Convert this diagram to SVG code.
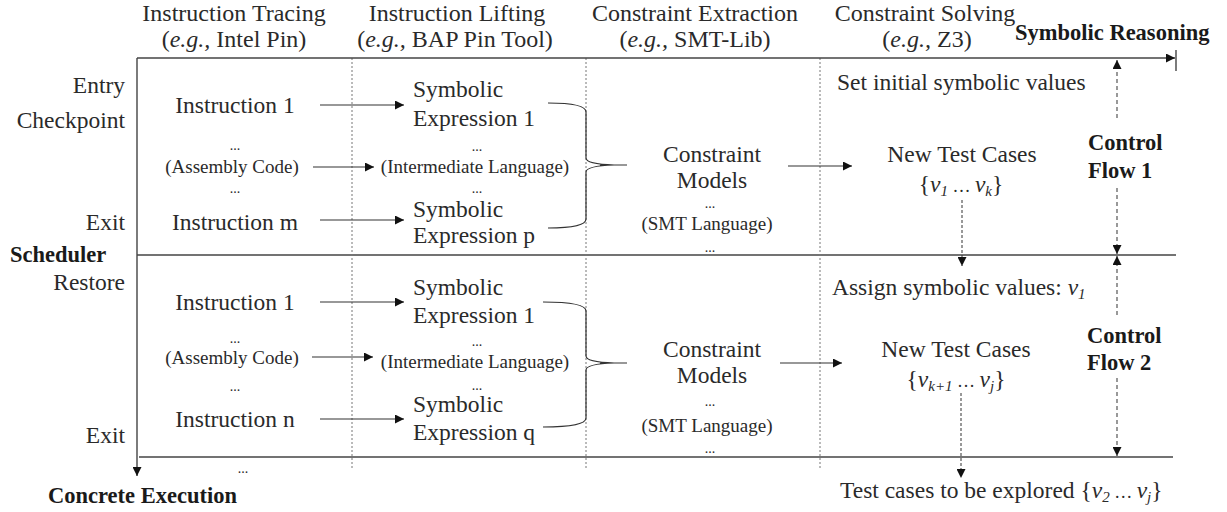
<svg xmlns="http://www.w3.org/2000/svg" width="1227" height="512" viewBox="0 0 1227 512">
<style>
text{font-family:"Liberation Serif","DejaVu Serif",serif;fill:#2a2a2a}
.m{font-size:23.5px}
.h{font-size:24px}
.s{font-size:19px}
.d{font-size:14px}
.b{font-size:22.5px;font-weight:bold;fill:#1a1a1a}
.c{text-anchor:middle}
.e{text-anchor:end}
.i{font-style:italic}
.ln{stroke:#444;stroke-width:1.4;fill:none}
.dv{stroke:#777;stroke-width:1;stroke-dasharray:2,2;fill:none}
.cf{stroke:#555;stroke-width:1.2;stroke-dasharray:4,3;fill:none}
.dd{stroke:#333;stroke-width:1;stroke-dasharray:3,2;fill:none}
.ar{stroke:#333;stroke-width:1.2;fill:none}
.br{stroke:#333;stroke-width:1.2;fill:none}
</style>
<defs>
<marker id="ah" viewBox="0 0 10 10" refX="10" refY="5" markerWidth="9" markerHeight="9" markerUnits="userSpaceOnUse" orient="auto">
<path d="M0,0 L10,5 L0,10 z" fill="#111"/>
</marker>
</defs>

<g id="frame">
<line class="ln" x1="137" y1="255" x2="1176" y2="255"/>
<line class="ln" x1="139" y1="457" x2="1173" y2="457"/>
<line class="ln" x1="1176" y1="50" x2="1176" y2="71"/>
<line class="dv" x1="352" y1="58" x2="352" y2="469"/>
<line class="dv" x1="586" y1="58" x2="586" y2="469"/>
<line class="dv" x1="820" y1="58" x2="820" y2="469"/>
</g>

<g id="headers">
<text class="h c" x="234" y="21">Instruction Tracing</text>
<text class="h c" x="234" y="47">(<tspan class="i">e.g.,</tspan> Intel Pin)</text>
<text class="h c" x="457" y="21">Instruction Lifting</text>
<text class="h c" x="455" y="47">(<tspan class="i">e.g.,</tspan> BAP Pin Tool)</text>
<text class="h c" x="695" y="21">Constraint Extraction</text>
<text class="h c" x="695" y="47">(<tspan class="i">e.g.,</tspan> SMT-Lib)</text>
<text class="h c" x="925" y="21">Constraint Solving</text>
<text class="h c" x="927" y="47">(<tspan class="i">e.g.,</tspan> Z3)</text>
<text class="b" x="1015" y="40">Symbolic Reasoning</text>
<text class="b" x="10" y="262">Scheduler</text>
<text class="b" x="48" y="503">Concrete Execution</text>
</g>

<g id="side-labels">
<text class="m e" x="125" y="93">Entry</text>
<text class="m e" x="125" y="128">Checkpoint</text>
<text class="m e" x="125" y="230">Exit</text>
<text class="m e" x="125" y="290">Restore</text>
<text class="m e" x="125" y="443">Exit</text>
</g>

<g id="trace-1">
<text class="m c" x="235" y="113">Instruction 1</text>
<text class="d c" x="235" y="150">...</text>
<text class="s c" x="232" y="173">(Assembly Code)</text>
<text class="d c" x="235" y="193">...</text>
<text class="m c" x="235" y="230">Instruction m</text>
</g>
<g id="lift-1">
<text class="m" x="413" y="97">Symbolic</text>
<text class="m" x="413" y="126">Expression 1</text>
<text class="d c" x="477" y="151">...</text>
<text class="s c" x="475" y="173">(Intermediate Language)</text>
<text class="d c" x="477" y="193">...</text>
<text class="m" x="413" y="217">Symbolic</text>
<text class="m" x="413" y="243">Expression p</text>
</g>
<g id="extract-1">
<text class="m c" x="712" y="162">Constraint</text>
<text class="m c" x="712" y="188">Models</text>
<text class="d c" x="710" y="208">...</text>
<text class="s c" x="707" y="230">(SMT Language)</text>
<text class="d c" x="710" y="252">...</text>
</g>
<g id="solve-1">
<text class="m" x="837" y="90">Set initial symbolic values</text>
<text class="m c" x="962" y="162">New Test Cases</text>
<text class="m c" x="961" y="192">{<tspan class="i">v</tspan><tspan class="i" font-size="15" dy="4">1</tspan><tspan dy="-4" font-size="18"> … </tspan><tspan class="i">v</tspan><tspan class="i" font-size="15" dy="4">k</tspan><tspan dy="-4">}</tspan></text>
</g>
<g id="flow-1">
<text class="b" x="1088" y="150">Control</text>
<text class="b" x="1088" y="178">Flow 1</text>
</g>

<g id="trace-2">
<text class="m c" x="235" y="310">Instruction 1</text>
<text class="d c" x="235" y="343">...</text>
<text class="s c" x="232" y="364">(Assembly Code)</text>
<text class="d c" x="235" y="391">...</text>
<text class="m c" x="235" y="427">Instruction n</text>
<text class="d c" x="243" y="473">...</text>
</g>
<g id="lift-2">
<text class="m" x="413" y="295">Symbolic</text>
<text class="m" x="413" y="323">Expression 1</text>
<text class="d c" x="477" y="346">...</text>
<text class="s c" x="475" y="368">(Intermediate Language)</text>
<text class="d c" x="477" y="390">...</text>
<text class="m" x="413" y="412">Symbolic</text>
<text class="m" x="413" y="440">Expression q</text>
</g>
<g id="extract-2">
<text class="m c" x="712" y="357">Constraint</text>
<text class="m c" x="712" y="383">Models</text>
<text class="d c" x="710" y="406">...</text>
<text class="s c" x="707" y="432">(SMT Language)</text>
<text class="d c" x="710" y="453">...</text>
</g>
<g id="solve-2">
<text class="m" x="832" y="295">Assign symbolic values: <tspan class="i">v</tspan><tspan class="i" font-size="15" dy="4">1</tspan></text>
<text class="m c" x="956" y="357">New Test Cases</text>
<text class="m c" x="956" y="387">{<tspan class="i">v</tspan><tspan class="i" font-size="15" dy="4">k+1</tspan><tspan dy="-4" font-size="18"> … </tspan><tspan class="i">v</tspan><tspan class="i" font-size="15" dy="4">j</tspan><tspan dy="-4">}</tspan></text>
</g>
<g id="flow-2">
<text class="b" x="1087" y="343">Control</text>
<text class="b" x="1087" y="370">Flow 2</text>
</g>
<g id="explore">
<text class="m" x="840" y="498">Test cases to be explored {<tspan class="i">v</tspan><tspan class="i" font-size="15" dy="4">2</tspan><tspan dy="-4" font-size="18"> … </tspan><tspan class="i">v</tspan><tspan class="i" font-size="15" dy="4">j</tspan><tspan dy="-4">}</tspan></text>
</g>

<g id="connectors">
<line class="ln" x1="137" y1="58" x2="1175" y2="58" marker-end="url(#ah)"/>
<line class="ln" x1="137" y1="58" x2="137" y2="476" marker-end="url(#ah)"/>
<line class="ar" x1="320" y1="105" x2="404" y2="105" marker-end="url(#ah)"/>
<line class="ar" x1="313" y1="167" x2="374" y2="167" marker-end="url(#ah)"/>
<line class="ar" x1="320" y1="220" x2="404" y2="220" marker-end="url(#ah)"/>
<line class="ar" x1="320" y1="302" x2="404" y2="302" marker-end="url(#ah)"/>
<line class="ar" x1="312" y1="357" x2="373" y2="357" marker-end="url(#ah)"/>
<line class="ar" x1="320" y1="419" x2="404" y2="419" marker-end="url(#ah)"/>
<path class="br" d="M548,103 Q586,103 586,112 L586,158 Q586,164 614,165 M548,228 Q586,228 586,219 L586,172 Q586,166 614,165 M600,165 L627,165"/>
<path class="br" d="M543,302 Q586,302 586,311 L586,356 Q586,362 614,363 M543,427 Q586,427 586,418 L586,370 Q586,364 614,363 M600,363 L627,363"/>
<line class="ar" x1="788" y1="166" x2="852" y2="166" marker-end="url(#ah)"/>
<line class="ar" x1="780" y1="363" x2="842" y2="363" marker-end="url(#ah)"/>
<line class="dd" x1="962" y1="200" x2="962" y2="266" marker-end="url(#ah)"/>
<line class="dd" x1="961" y1="393" x2="961" y2="478" marker-end="url(#ah)"/>
<line class="cf" x1="1117" y1="118" x2="1117" y2="60" marker-end="url(#ah)"/>
<line class="cf" x1="1117" y1="188" x2="1117" y2="254" marker-end="url(#ah)"/>
<line class="cf" x1="1117" y1="315" x2="1117" y2="256" marker-end="url(#ah)"/>
<line class="cf" x1="1117" y1="378" x2="1117" y2="456" marker-end="url(#ah)"/>
</g>
</svg>
